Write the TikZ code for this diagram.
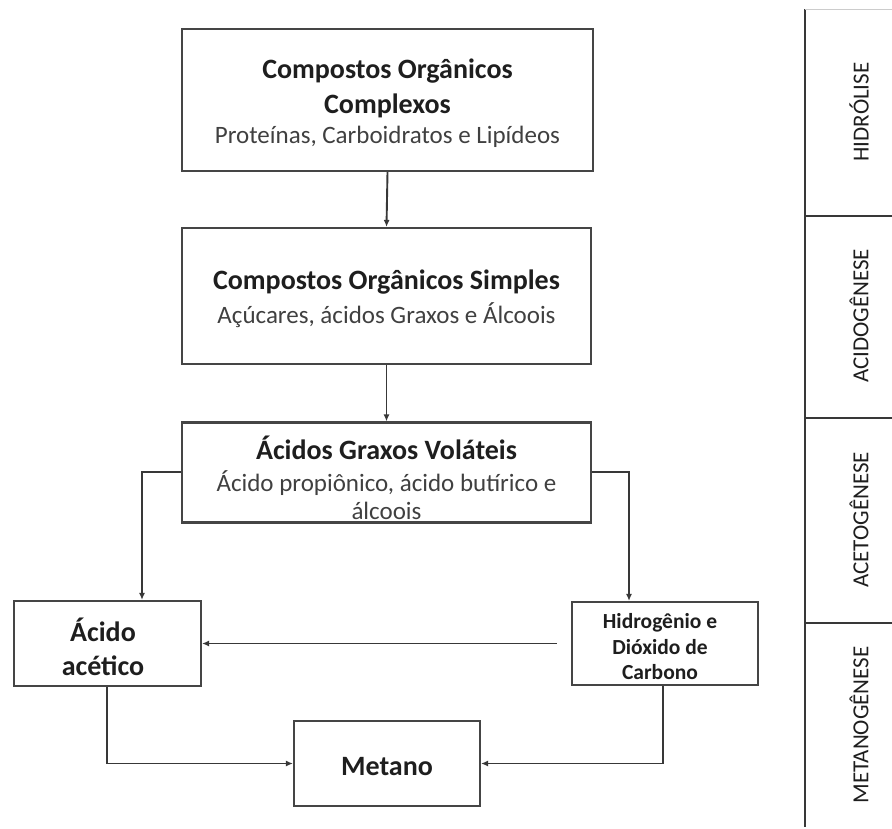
\documentclass[tikz,border=0pt]{standalone}
\usepackage{fontspec}
\setmainfont{Carlito}
\usetikzlibrary{arrows.meta}
\definecolor{boxc}{HTML}{454545}
\definecolor{txt}{HTML}{1E1E1E}
\definecolor{linec}{HTML}{383838}
\begin{document}
\begin{tikzpicture}[x=1pt,y=-1pt,
  box/.style={draw=boxc,line width=2.1pt,inner sep=0pt},
  ttl/.style={inner sep=0pt,align=center,text=txt,font=\fontsize{28}{35}\selectfont\bfseries},
  sub/.style={inner sep=0pt,align=center,text=txt!85,font=\fontsize{25}{27.5}\selectfont},
  arr/.style={draw=linec,line width=1.9pt,-{Latex[length=7pt,width=6pt]}},
  phase/.style={inner sep=0pt,rotate=90,text=txt,font=\fontsize{23}{28}\selectfont},
  sep/.style={draw=linec,line width=1.7pt}]
\useasboundingbox (0,0) rectangle (892,828);

% boxes
\node[box,minimum width=411pt,minimum height=142pt] (b1) at (387.5,100) {};
\node[box,minimum width=409pt,minimum height=136pt] (b2) at (386.5,296) {};
\node[box,minimum width=409pt,minimum height=100pt] (b3) at (386.5,472.5) {};
\node[box,minimum width=187pt,minimum height=85pt] (ac) at (107.5,643.5) {};
\node[box,minimum width=186pt,minimum height=83pt] (h2) at (665,643.5) {};
\node[box,minimum width=186pt,minimum height=85pt] (me) at (387,763.5) {};

% texts
\node[ttl] (t1) at (387.5,88) {Compostos Orgânicos\\Complexos};
\node[sub] (s1) at (387.5,137) {Proteínas, Carboidratos e Lipídeos};
\node[ttl] (t2) at (386.5,282) {Compostos Orgânicos Simples};
\node[sub] (s2) at (386.5,315) {Açúcares, ácidos Graxos e Álcoois};
\node[ttl] (t3) at (386.5,448) {Ácidos Graxos Voláteis};
\node[sub] (s3) at (386.5,495) {Ácido propiônico, ácido butírico e\\álcoois};
\node[ttl,font=\fontsize{28}{34}\selectfont\bfseries] (t4) at (103,647) {Ácido\\acético};
\node[ttl,font=\fontsize{21.5}{25.5}\selectfont\bfseries] (t5) at (660,647) {Hidrogênio e\\Dióxido de\\Carbono};
\node[ttl,font=\fontsize{28}{30}\selectfont\bfseries] (t6) at (387,767) {Metano};

% connectors
\draw[arr] (b1.south) -- (b2.north);
\draw[arr] (b2.south) -- (b3.north);
\draw[arr] (b3.west |- 0,472) -| ([xshift=34.5pt]ac.north);
\draw[arr] (b3.east |- 0,472) -| ([xshift=-36pt]h2.north);
\draw[arr] ([xshift=-14pt]h2.west) -- (ac.east);
\draw[arr] ([xshift=-0.5pt]ac.south) |- (me.west);
\draw[arr] ([xshift=-2pt]h2.south) |- (me.east);

% phase panel
\coordinate (ptop) at (805,9);
\coordinate (pbot) at (805,827);
\draw[draw=linec,line width=2.6pt] (ptop) -- (pbot);
\draw[draw=gray!40,line width=1pt] (ptop) -- (892,9);
\coordinate (d1) at (805,216);
\coordinate (d2) at (805,418);
\coordinate (d3) at (805,623);
\draw[sep] (d1) -- (892,216);
\draw[sep] (d2) -- (892,418);
\draw[sep] (d3) -- (892,623);
\node[phase] (p1) at (859,112) {HIDRÓLISE};
\node[phase] (p2) at (859,316) {ACIDOGÊNESE};
\node[phase] (p3) at (859,520) {ACETOGÊNESE};
\node[phase] (p4) at (859,725) {METANOGÊNESE};
\end{tikzpicture}
\end{document}
